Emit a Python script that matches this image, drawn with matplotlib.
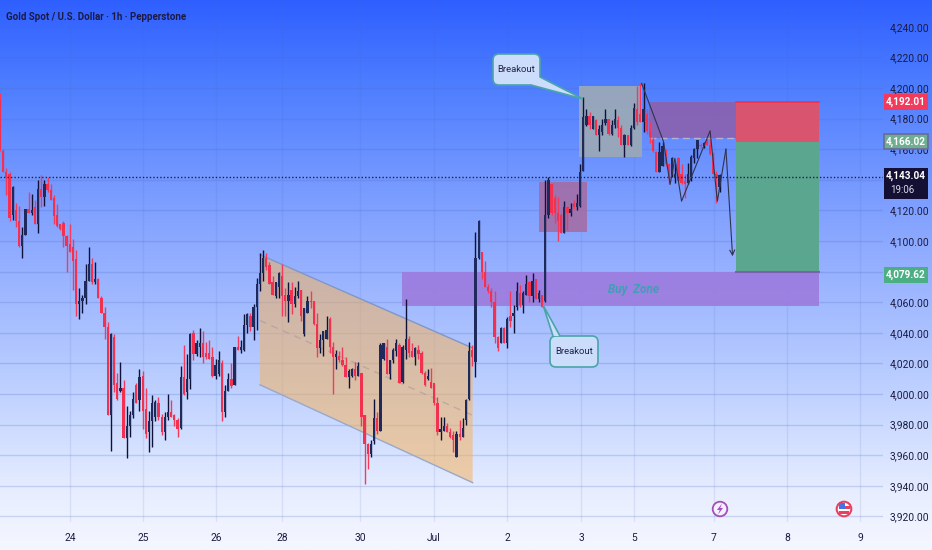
import numpy as np
import matplotlib
matplotlib.use("Agg")
import matplotlib.pyplot as plt
from matplotlib.colors import LinearSegmentedColormap
from matplotlib.patches import Rectangle, Polygon, FancyBboxPatch, Circle

plt.rcParams['font.family'] = ['Roboto', 'DejaVu Sans']

# Hourly candles
opens = [4192,4159,4145,4144,4117,4120,4113,4097,4104,4121,
         4118,4122,4111,4134,4129,4137,4133,4128,4117,4111,
         4112,4103,4098,4096,4088,4059,4061,4063,4074,4085,
         4073,4075,4063,4053,4044,3986,4037,4007,4002,4004,
         3971,3979,3986,4006,3996,4012,3990,3975,3982,3985,
         3994,3985,3975,3985,3988,3986,3983,3978,4011,4001,
         4010,4040,4026,4031,4033,4027,4027,4024,4012,4013,
         4020,3988,4002,4010,4006,4031,4029,4029,4045,4051,
         4044,4057,4072,4079,4089,4084,4073,4064,4070,4077,
         4065,4061,4068,4059,4064,4068,4039,4053,4061,4061,
         4046,4030,4035,4036,4049,4031,4024,4025,4022,4019,
         4011,4012,4016,4012,4014,3986,3967,3961,3969,3984,
         3976,4023,4031,4013,4022,4028,4032,4008,4029,4036,
         4028,4024,4029,4027,4014,4010,4008,4007,3994,3975,
         3976,3979,3975,3973,3959,3974,3972,3983,3997,4029,
         4021,4089,4093,4080,4070,4067,4060,4037,4033,4043,
         4033,4051,4051,4057,4066,4058,4065,4073,4064,4075,
         4062,4065,4061,4117,4137,4128,4118,4117,4105,4122,
         4118,4125,4122,4123,4146,4176,4182,4173,4179,4169,
         4171,4177,4180,4170,4176,4179,4174,4163,4169,4163,
         4174,4186,4183,4178,4183,4172,4166,4158,4145,4149,
         4154,4150,4143,4142,4154,4144,4139,4138,4142,4154,
         4160,4163,4162,4166,4163,4157,4144,4135]
closes = [4160,4145,4142,4115,4135,4113,4097,4104,4121,4118,
          4120,4111,4134,4129,4137,4133,4127,4116,4110,4108,
          4103,4097,4093,4087,4059,4061,4063,4074,4085,4073,
          4075,4063,4053,4044,3986,4039,4006,3997,4004,3971,
          3979,3986,3997,3994,4011,3989,3974,3982,3994,3995,
          3985,3975,3985,3988,3985,3983,3977,4011,4000,4010,
          4039,4026,4033,4033,4024,4024,4023,4012,4019,4022,
          3988,4002,4010,4005,4031,4029,4031,4045,4052,4044,
          4057,4072,4079,4089,4083,4072,4065,4073,4079,4064,
          4061,4065,4059,4064,4067,4051,4056,4061,4060,4046,
          4030,4035,4041,4042,4031,4024,4026,4022,4019,4011,
          4015,4016,4012,4018,3985,3967,3961,3967,3984,3976,
          4032,4033,4013,4022,4029,4033,4007,4031,4036,4027,
          4024,4030,4026,4014,4006,4012,4004,3994,3975,3977,
          3979,3975,3972,3970,3974,3972,3978,3996,4028,4024,
          4089,4113,4080,4070,4067,4060,4037,4030,4043,4033,
          4049,4048,4053,4067,4058,4066,4072,4064,4074,4062,
          4066,4057,4117,4140,4118,4118,4113,4105,4122,4118,
          4121,4122,4125,4145,4181,4182,4176,4182,4169,4173,
          4176,4180,4170,4176,4180,4174,4163,4169,4163,4174,
          4187,4178,4178,4186,4172,4168,4159,4145,4158,4162,
          4150,4142,4154,4144,4139,4138,4137,4144,4155,4160,
          4166,4162,4164,4163,4157,4144,4141,4143]
highs = [4197,4160,4148,4145,4136,4125,4123,4109,4121,4132,
         4131,4127,4140,4143,4140,4142,4137,4130,4124,4111,
         4113,4104,4111,4101,4094,4069,4065,4085,4096,4089,
         4086,4076,4064,4057,4047,4040,4039,4014,4021,4009,
         3992,3989,4001,4007,4016,4015,4004,3989,3999,3996,
         3998,3987,3988,4000,3996,3987,3984,4018,4032,4026,
         4040,4042,4035,4043,4041,4034,4035,4031,4023,4028,
         4022,4006,4014,4020,4031,4038,4035,4052,4053,4053,
         4059,4076,4092,4094,4092,4086,4077,4073,4080,4085,
         4069,4073,4073,4070,4074,4068,4056,4064,4067,4061,
         4053,4039,4041,4051,4050,4034,4029,4028,4031,4024,
         4016,4017,4021,4021,4014,3986,3968,3970,3997,3988,
         4033,4033,4036,4022,4030,4036,4033,4032,4062,4038,
         4033,4031,4032,4028,4015,4016,4017,4007,3998,3985,
         3985,3981,3978,3976,3976,3983,3984,3997,4034,4032,
         4106,4114,4093,4087,4072,4069,4067,4038,4044,4044,
         4050,4067,4058,4073,4071,4067,4078,4074,4079,4075,
         4068,4065,4140,4142,4137,4130,4129,4118,4126,4123,
         4125,4127,4131,4150,4194,4186,4184,4182,4180,4176,
         4180,4186,4180,4179,4186,4182,4176,4170,4169,4176,
         4190,4201,4203,4203,4186,4178,4168,4159,4165,4165,
         4160,4151,4155,4151,4155,4150,4144,4151,4156,4161,
         4166,4164,4165,4167,4172,4158,4146,4144]
lows = [4159,4145,4130,4113,4114,4109,4096,4089,4104,4118,
        4117,4111,4105,4122,4123,4132,4127,4111,4109,4107,
        4096,4080,4093,4068,4051,4049,4053,4059,4074,4072,
        4072,4063,4053,4036,3986,3963,4001,3996,4001,3971,
        3958,3972,3984,3994,3989,3977,3971,3962,3965,3982,
        3983,3973,3970,3983,3985,3979,3972,3977,3999,3997,
        4003,4022,4025,4024,4020,4023,4023,4011,4010,4012,
        3982,3985,4002,4004,4006,4029,4027,4028,4040,4041,
        4035,4042,4067,4074,4081,4072,4065,4063,4063,4051,
        4051,4047,4052,4057,4063,4048,4038,4053,4056,4045,
        4024,4027,4025,4036,4027,4000,4016,4021,4018,4011,
        4004,4011,4009,4012,3979,3941,3951,3959,3967,3974,
        3976,4022,4013,4010,4020,4025,4007,4007,4023,4024,
        4024,4019,4023,4013,4005,4009,4004,3993,3973,3970,
        3976,3975,3971,3962,3959,3970,3972,3980,3996,4018,
        4011,4088,4075,4070,4066,4057,4033,4028,4033,4033,
        4030,4044,4040,4055,4057,4053,4065,4060,4060,4062,
        4060,4057,4060,4115,4117,4112,4100,4105,4105,4107,
        4116,4121,4120,4122,4146,4175,4173,4173,4169,4159,
        4169,4176,4169,4169,4174,4168,4163,4155,4163,4162,
        4173,4176,4178,4171,4170,4164,4158,4145,4145,4149,
        4149,4137,4142,4138,4139,4137,4128,4137,4139,4151,
        4154,4161,4161,4163,4156,4144,4125,4132]

# Axis ticks
day_labels = ['24', '25', '26', '28', '30', 'Jul', '2', '3', '5', '7', '8', '9']
day_bars = [22.1, 45.1, 68.1, 89, 113.6, 136.9, 159.9, 183.3, 200, 225.2, 248.3, 271.3]
price_ticks = list(range(3920, 4241, 20))
hidden_ticks = [4080, 4140]  # sit behind the price tags

# Hand drawn shapes, (bar, price)
channel = [(82, 4091), (149.1, 4030), (149.1, 3942), (82, 4006)]
channel_mid = [(82, 4048), (149.1, 3986)]
zigzag = [(202.4, 4203), (209.3, 4165), (211.4, 4137), (212.9, 4154), (215, 4126),
          (224, 4172), (226.3, 4126), (229, 4160), (231.1, 4090)]

current_price = 4142

fig = plt.figure(figsize=(9.32, 5.5), dpi=100)

# Background gradient
bg = fig.add_axes([0, 0, 1, 1], zorder=0)
cmap = LinearSegmentedColormap.from_list('bg', [(0, '#2f5fff'), (0.15, '#4d7dff'), (0.45, '#8fabff'),
                                                (0.72, '#c0d2ff'), (0.9, '#e8eeff'), (1, '#f5f7ff')])
bg.imshow(np.linspace(0, 1, 256).reshape(-1, 1), aspect='auto', cmap=cmap, extent=[0, 1, 0, 1])
bg.axis('off')

# Main chart, 3.17 px per bar and 1.53 px per dollar
ax = fig.add_axes([0, 28 / 550, 883 / 932, 522 / 550], zorder=1)
ax.patch.set_alpha(0)
ax.set_xlim(0, 883 / 3.17)
ax.set_ylim(3916.3, 4257.5)
for s in ax.spines.values():
    s.set_visible(False)

ax.set_xticks(day_bars)
ax.set_xticklabels(day_labels)
ax.set_yticks(price_ticks)
ax.set_yticklabels(['' if p in hidden_ticks else f'{p:,.2f}' for p in price_ticks])
ax.yaxis.tick_right()
ax.tick_params(axis='both', length=0, labelsize=7.4, labelcolor='#1b1b40')
ax.tick_params(axis='x', pad=8)
ax.tick_params(axis='y', pad=5)
ax.grid(axis='y', color='#4a68c0', alpha=0.22, lw=1)
ax.grid(axis='x', color='#4a68c0', alpha=0.12, lw=1)
ax.set_axisbelow(True)

# Zones under the candles
ax.add_patch(Polygon(channel, closed=True, facecolor='#f5b35f', alpha=0.55, edgecolor='none', zorder=2))
ax.plot(*zip(channel[0], channel[1]), color='#7f97c8', lw=1, zorder=2.1)
ax.plot(*zip(channel[3], channel[2]), color='#9aa8c8', lw=1, zorder=2.1)
ax.plot(*zip(*channel_mid), color='#a89aa0', lw=1, ls=(0, (5, 4)), alpha=0.6, zorder=2.1)

ax.add_patch(Rectangle((126.8, 4057.5), 131.6, 22.2, facecolor='#9c7ee0', alpha=0.95, lw=0, zorder=2))
ax.add_patch(Rectangle((170, 4105.9), 15.2, 32.7, facecolor='#a56ba0', alpha=0.85, lw=0, zorder=2))
ax.add_patch(Rectangle((182.6, 4155), 20, 46, facecolor='#9aa8b8', alpha=0.95, lw=0, zorder=2))
ax.add_patch(Rectangle((204.7, 4167.3), 27.5, 23.5, facecolor='#8a62b0', alpha=0.92, lw=0, zorder=2))
ax.plot([204.7, 232.2], [4167.3, 4167.3], color='#b5b0d5', lw=1, ls=(0, (5, 3)), zorder=2.1)
ax.add_patch(Rectangle((232.2, 4164.7), 26.2, 26.1, facecolor='#d9556f', lw=0, zorder=2))
ax.plot([232.2, 258.4], [4190.8, 4190.8], color='#f23050', lw=1.2, zorder=2.1)
ax.add_patch(Rectangle((232.2, 4079.7), 26.2, 85, facecolor='#5ba68f', lw=0, zorder=2))
ax.plot([232.2, 258.4], [4079.7, 4079.7], color='#7a62b0', lw=1.5, zorder=2.1)

# Candles
bars = np.arange(len(opens))
opens = np.array(opens)
closes = np.array(closes)
highs = np.array(highs)
lows = np.array(lows)
up = closes >= opens
ax.vlines(bars[up], lows[up], highs[up], color='#0f1238', lw=1, zorder=3)
ax.vlines(bars[~up], lows[~up], highs[~up], color='#f23a5c', lw=1, zorder=3)
bottoms = np.minimum(opens, closes)
heights = np.maximum(np.abs(closes - opens), 1)
ax.bar(bars[up], heights[up], bottom=bottoms[up], width=0.72, color='#1f2a5c', lw=0, zorder=3.1)
ax.bar(bars[~up], heights[~up], bottom=bottoms[~up], width=0.72, color='#f23050', lw=0, zorder=3.1)

# Current price line
ax.axhline(current_price, color='#20204a', lw=1, ls=(0, (1, 1.5)), zorder=3.5)

# Zigzag projection
ax.plot(*zip(*zigzag[:-1]), color='#2e3350', lw=0.8, zorder=4)
ax.annotate('', xy=zigzag[-1], xytext=zigzag[-2],
            arrowprops=dict(arrowstyle='->', color='#2e3350', lw=0.8, shrinkA=0, shrinkB=0, mutation_scale=9), zorder=4)

# Overlay in pixel space for labels and callouts
over = fig.add_axes([0, 0, 1, 1], zorder=2)
over.patch.set_alpha(0)
over.set_xlim(0, 932)
over.set_ylim(550, 0)
over.axis('off')

over.text(6, 17, 'Gold Spot / U.S. Dollar · 1h · Pepperstone', color='#1c1a45', fontsize=7,
          fontweight='bold', va='center')
over.text(634, 290, 'Buy  Zone', color='#3f9fb4', fontsize=8.5, fontstyle='italic', fontweight='bold',
          ha='center', va='center')


def callout(x0, y0, x1, y1, pointer, label):
    box = FancyBboxPatch((x0 + 4, y0 + 4), x1 - x0 - 8, y1 - y0 - 8, boxstyle='round,pad=4,rounding_size=6',
                         facecolor='#ccdcfb', edgecolor='#4aa5a8', lw=1.2, zorder=5)
    over.add_patch(box)
    over.add_patch(Polygon(pointer, closed=False, facecolor='#ccdcfb', edgecolor='#4aa5a8', lw=1.2, zorder=6))
    over.text((x0 + x1) / 2, (y0 + y1) / 2, label, color='#24244a', fontsize=6.8, ha='center', va='center', zorder=7)


callout(493, 54, 540, 85, [(531, 85), (583, 99), (540, 77)], 'Breakout')
callout(550, 336, 598, 367, [(553, 336), (543, 305), (560, 336)], 'Breakout')


def price_tag(y0, y1, text, face, edge='none'):
    over.add_patch(Rectangle((884, y0), 44, y1 - y0, facecolor=face, edgecolor=edge, lw=1.2, zorder=5))
    over.text(906, (y0 + y1) / 2, text, color='white', fontsize=7.2, fontweight='bold',
              ha='center', va='center', zorder=6)


price_tag(94, 110, '4,192.01', '#f23a5c')
price_tag(134, 149, '4,166.02', '#6fae91', '#6a6a96')
price_tag(267, 283, '4,079.62', '#4caf84')
over.add_patch(Rectangle((884, 168), 44, 31, facecolor='#131033', lw=0, zorder=5))
over.text(906, 176, '4,143.04', color='white', fontsize=7.2, fontweight='bold', ha='center', va='center', zorder=6)
over.text(890, 190, '19:06', color='#d8d8e8', fontsize=7, va='center', zorder=6)

# Event icons
over.add_patch(Circle((720, 509), 7.3, facecolor='#f4f0ff', edgecolor='#a050b8', lw=1.3, zorder=5))
over.add_patch(Polygon([(722, 503.5), (717, 510), (719.8, 510), (718, 514.5), (723, 508), (720.2, 508)],
                       facecolor='#a050b8', lw=0, zorder=6))
over.add_patch(Circle((844, 509), 7.3, facecolor='white', edgecolor='#e8405f', lw=1.5, zorder=5))
over.add_patch(Rectangle((839, 503), 6, 6, facecolor='#4a70e8', lw=0, zorder=6))
over.add_patch(Rectangle((845, 506), 5, 3, facecolor='#e8405f', lw=0, zorder=6))
over.add_patch(Rectangle((839, 511), 10, 2.5, facecolor='#e8405f', lw=0, zorder=6))

fig.savefig('out.png', dpi=100)
